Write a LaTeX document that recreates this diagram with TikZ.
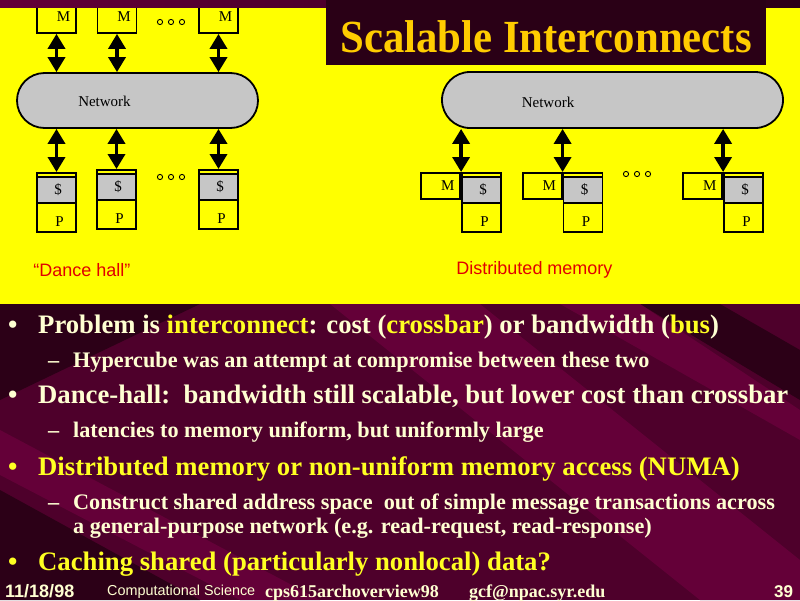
\documentclass[tikz,border=0pt]{standalone}
\usepackage{fontspec}
\setmainfont{Liberation Serif}
\newfontfamily\sansf{Liberation Sans}
\newfontfamily\titlef[FakeStretch=0.93]{Liberation Serif}
\usetikzlibrary{arrows.meta}
\definecolor{bgbase}{HTML}{4E002B}
\definecolor{bglight}{HTML}{640038}
\definecolor{bgdark}{HTML}{2C0017}
\definecolor{ylw}{HTML}{FFFF00}
\definecolor{gold}{HTML}{FFCC00}
\definecolor{cream}{HTML}{FFFFD2}
\definecolor{hl}{HTML}{FFFF22}
\definecolor{lbl}{HTML}{E00000}
\definecolor{dotgray}{HTML}{C6C6C6}
\definecolor{titlebg}{HTML}{2A0016}
\tikzset{
  boxline/.style={draw=black, line width=1.8pt},
  mbox/.style={boxline, fill=ylw, minimum width=39pt, minimum height=26pt, inner sep=0pt},
  cpbox/.style={boxline, fill=ylw, minimum width=39pt, minimum height=59pt, inner sep=0pt},
  netw/.style={boxline, fill=dotgray, rounded corners=27.5pt, inner sep=0pt},
  lab/.style={font=\fontsize{15}{15}\selectfont, text=black, inner sep=0pt},
  dbl/.style={line width=3.5pt, black, {Triangle[width=17pt,length=15pt]}-{Triangle[width=17pt,length=15pt]}},
  odot/.style={draw=black, line width=0.9pt},
  redlab/.style={font=\sansf\fontsize{18}{18}\selectfont, text=lbl, inner sep=0pt},
  mainline/.style={anchor=base west, inner sep=0pt, font=\bfseries\fontsize{26.7}{28}\selectfont},
  subline/.style={anchor=base west, inner sep=0pt, font=\bfseries\fontsize{22.2}{24}\selectfont, text=cream},
  foot/.style={anchor=base west, inner sep=0pt, text=cream},
  cp/.pic={
    \node[cpbox, anchor=north] (-box) at (0,0) {};
    \fill[dotgray] (-18.6,5) rectangle (18.6,31);
    \draw[line width=1.5pt] (-19.5,5) -- (19.5,5) (-19.5,31) -- (19.5,31);
    \node[lab] (-d) at (1.5,18) {\$};
    \node[lab] (-p) at (3,50) {P};
  }
}
\begin{document}
\begin{tikzpicture}[x=1pt,y=-1pt]
\useasboundingbox (0,0) rectangle (800,600);
% background
\fill[bgbase] (0,0) rectangle (800,600);
\fill[bgdark] (0,304) -- (200,304) -- (0,400) -- cycle;
\fill[bglight] (0,430) -- (0,475) -- (240,600) -- (320,600) -- cycle;
\fill[bgdark] (0,490) -- (0,600) -- (200,600) -- cycle;
\fill[bglight] (330,304) -- (480,304) -- (800,560) -- (800,600) -- (700,600) -- cycle;
\fill[bgdark] (640,304) -- (720,304) -- (800,350) -- (800,400) -- cycle;
\fill[bglight] (560,304) -- (640,304) -- (800,410) -- (800,440) -- cycle;
% yellow panel
\fill[ylw] (0,7) rectangle (800,304);

% ---------- left diagram: dance hall ----------
\node[netw, minimum width=241pt, minimum height=55pt] (net1) at (137.5,100.5) {};
\node[lab] (net1t) at (104.5,101) {Network};
\node[mbox, minimum height=31pt] (m1) at (56.5,17.5) {};
\node[mbox, minimum height=31pt] (m2) at (117,17.5) {};
\node[mbox, minimum height=31pt] (m3) at (218.5,17.5) {};
\node[lab] (m1t) at (63.5,17) {M};
\node[lab] (m2t) at (124,17) {M};
\node[lab] (m3t) at (225.5,17) {M};
\pic (c1) at (56.5,172) {cp};
\pic (c2) at (116.5,169) {cp};
\pic (c3) at (218.5,169) {cp};
\foreach \m in {m1,m2,m3} \draw[dbl] (\m.south) -- (\m.south |- net1.north);
\foreach \c in {c1,c2,c3} \draw[dbl] (\c-box.north |- net1.south) -- (\c-box.north);
\foreach \x in {160,171,182} {\draw[odot] (\x,22) circle (2.6); \draw[odot] (\x,177) circle (2.6);}
\node[redlab] (dh) at (82,270) {“Dance hall”};

% ---------- right diagram: distributed memory ----------
\node[netw, rounded corners=28pt, minimum width=341pt, minimum height=56pt] (net2) at (612.5,100) {};
\node[lab] (net2t) at (548,102) {Network};
\pic (d1) at (481.5,172) {cp};
\pic (d2) at (583,172) {cp};
\pic (d3) at (743.5,172) {cp};
\node[mbox, anchor=north east] (r1) at (d1-box.north west) {};
\node[mbox, anchor=north east] (r2) at (d2-box.north west) {};
\node[mbox, anchor=north east] (r3) at (d3-box.north west) {};
\node[lab] (r1t) at ([xshift=7pt]r1.center) {M};
\node[lab] (r2t) at ([xshift=7pt]r2.center) {M};
\node[lab] (r3t) at ([xshift=7pt]r3.center) {M};
\foreach \c in {d1,d2,d3} \draw[dbl] (\c-box.north west |- net2.south) -- (\c-box.north west);
\foreach \x in {626,637,648} \draw[odot] (\x,174) circle (2.6);
\node[redlab] (dm) at (534.5,270) {Distributed memory};

% top strip and title
\shade[left color=bglight, right color=bgdark] (0,0) rectangle (800,7);
\fill[titlebg] (326,0) rectangle (766,65);
\node[anchor=base, inner sep=0pt, text=gold, font=\titlef\bfseries\fontsize{46}{46}\selectfont] (title) at (546,52) {Scalable Interconnects};

% ---------- bullets ----------
\node[mainline, text=cream] (b1) at (8,333) {•};
\node[mainline, text=cream] (t1) at (38,333) {Problem is \textcolor{hl}{interconnect}: cost (\textcolor{hl}{crossbar}) or bandwidth (\textcolor{hl}{bus})};
\node[subline] (s1d) at (48,367) {–};
\node[subline] (s1) at (73,367) {Hypercube was an attempt at compromise between these two};
\node[mainline, text=cream] (b2) at (8,403) {•};
\node[mainline, text=cream] (t2) at (38,403) {Dance-hall:\ \ bandwidth still scalable, but lower cost than crossbar};
\node[subline] (s2d) at (48,437) {–};
\node[subline] (s2) at (73,437) {latencies to memory uniform, but uniformly large};
\node[mainline, text=hl] (b3) at (8,475) {•};
\node[mainline, text=hl] (t3) at (38,475) {Distributed memory or non-uniform memory access (NUMA)};
\node[subline] (s3d) at (48,509) {–};
\node[subline] (s3) at (73,509) {Construct shared address space\ \ out of simple message transactions across};
\node[subline] (s3b) at (73,533) {a general-purpose network (e.g. read-request, read-response)};
\node[mainline, text=hl] (b4) at (8,570) {•};
\node[mainline, text=hl] (t4) at (38,570) {Caching shared (particularly nonlocal) data?};

% ---------- footer ----------
\node[foot, font=\sansf\bfseries\fontsize{18}{18}\selectfont] (f1) at (5,597) {11/18/98};
\node[foot, font=\sansf\fontsize{14.4}{14.4}\selectfont] (f2) at (107,595) {Computational Science};
\node[foot, font=\bfseries\fontsize{18}{18}\selectfont] (f3) at (265,597) {cps615archoverview98};
\node[foot, font=\bfseries\fontsize{18}{18}\selectfont] (f4) at (469,597) {gcf@npac.syr.edu};
\node[foot, font=\sansf\bfseries\fontsize{17}{17}\selectfont] (f5) at (774,597) {39};
\end{tikzpicture}
\end{document}
